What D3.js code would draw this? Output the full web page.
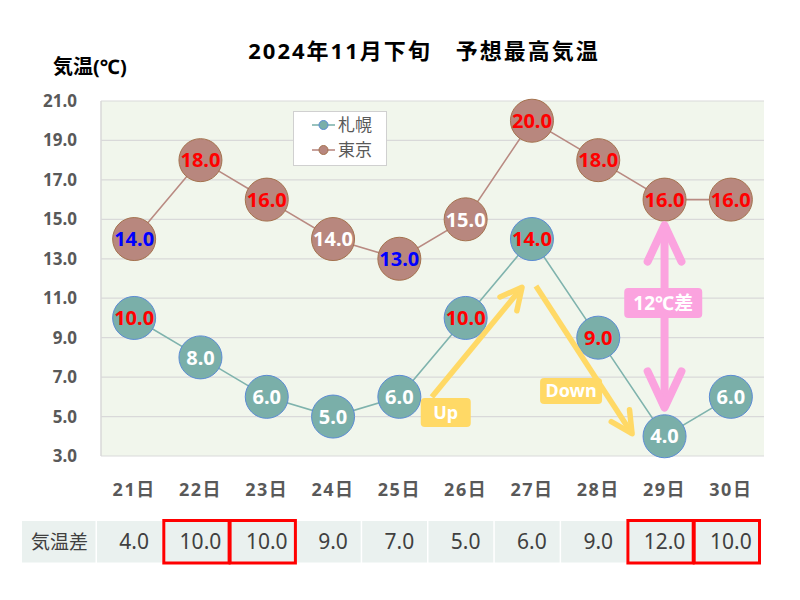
<!DOCTYPE html>
<html><head><meta charset="utf-8">
<script src="https://cdn.jsdelivr.net/npm/d3@7"></script>
<style>body{margin:0;background:#fff}svg{display:block}</style>
</head><body><svg id="c" width="800" height="600"></svg>
<script>
// ---- data ----
const days = ["21日","22日","23日","24日","25日","26日","27日","28日","29日","30日"];
const sapporo = [10,8,6,5,6,10,14,9,4,6];
const tokyo = [14,18,16,14,13,15,20,18,16,16];
const tempDiff = [4,10,10,9,7,5,6,9,12,10];
const highlightedDays = ["22日","23日","29日","30日"];
const yTicks = [3,5,7,9,11,13,15,17,19,21];
const tokyoLabelTone = ["low","high","high","plain","low","plain","high","high","high","high"];
const sapporoLabelTone = ["high","plain","plain","plain","plain","high","high","high","plain","plain"];
const seriesNames = ["札幌","東京"];
// annotations in data space: [category index (fractional), temperature]
const upArrow = [[4.49,5.99],[5.85,11.55]];
const downArrow = [[6.06,11.62],[7.51,4.13]];
const gapArrow = [[8,14.7],[8,5.45]];
const upLabel = {text:"Up", at:[4.70,5.21]};
const downLabel = {text:"Down", at:[6.59,6.30]};
const gapLabel = {text:"12℃差", at:[7.98,10.76]};

// ---- layout ----
const svg = d3.select("#c");
const L = 101, R = 764, T = 101, B = 456;
const FONT = "'Noto Sans','Noto Sans CJK JP',sans-serif";
const toneColor = {high:"#ff0000", low:"#0000ff", plain:"#ffffff"};

const x = d3.scaleBand().domain(days).range([L,R]).padding(0);
const xi = d3.scaleLinear().domain([-0.5, days.length-0.5]).range([L,R]);
const y = d3.scaleLinear().domain([3,21]).range([B,T]);
const cx = d => x(d) + x.bandwidth()/2;

// plot background
svg.append("rect").attr("x",L).attr("y",T).attr("width",R-L).attr("height",B-T).attr("fill","#f1f6ec");
// gridlines
svg.append("g").selectAll("line").data(yTicks).join("line")
  .attr("x1",L).attr("x2",R).attr("y1",d=>y(d)).attr("y2",d=>y(d))
  .attr("stroke","#d9d9d9").attr("stroke-width",1.2);
svg.append("line").attr("x1",L).attr("x2",L).attr("y1",T).attr("y2",B).attr("stroke","#d9d9d9").attr("stroke-width",1.5);

// y axis labels
const yAxis = d3.axisLeft(y).tickValues(yTicks).tickFormat(d3.format(".1f")).tickSize(0).tickPadding(0);
const gy = svg.append("g").attr("transform","translate(77,0)").call(yAxis);
gy.select(".domain").remove();
gy.selectAll("text").attr("font-family",FONT).attr("font-size",17).attr("font-weight","bold").attr("fill","#595959");

// x axis labels
const xAxis = d3.axisBottom(x).tickSize(0).tickPadding(0);
const gx = svg.append("g").attr("transform","translate(0,480)").call(xAxis);
gx.select(".domain").remove();
gx.selectAll("text").attr("font-family",FONT).attr("font-size",18).attr("font-weight","bold").attr("fill","#595959")
  .attr("letter-spacing",1.5).attr("dy","0.35em").attr("y",10);

// title & axis title
svg.append("text").attr("x",424).attr("y",51).attr("dy","0.35em").attr("text-anchor","middle")
  .attr("font-family",FONT).attr("font-size",22).attr("font-weight","bold").attr("fill","#000")
  .attr("letter-spacing",2).text("2024年11月下旬　予想最高気温");
svg.append("text").attr("x",53).attr("y",67).attr("dy","0.35em")
  .attr("font-family",FONT).attr("font-size",20).attr("font-weight","bold").attr("fill","#000").text("気温(℃)");

// series
const series = [
  {name:seriesNames[0], values:sapporo, tone:sapporoLabelTone, line:"#7fb3ad", fill:"#7aafa9", stroke:"#5b8bd4"},
  {name:seriesNames[1], values:tokyo, tone:tokyoLabelTone, line:"#b98a82", fill:"#b8877e", stroke:"#a4724e"}
];
const lineGen = d3.line().x((d,i)=>cx(days[i])).y(d=>y(d));
series.forEach(s=>{
  svg.append("path").attr("d",lineGen(s.values)).attr("fill","none").attr("stroke",s.line).attr("stroke-width",1.6);
});
series.forEach(s=>{
  const g = svg.append("g");
  g.selectAll("circle").data(s.values).join("circle")
    .attr("cx",(d,i)=>cx(days[i])).attr("cy",d=>y(d)).attr("r",21.5)
    .attr("fill",s.fill).attr("stroke",s.stroke).attr("stroke-width",1);
  g.selectAll("text").data(s.values).join("text")
    .attr("x",(d,i)=>cx(days[i])).attr("y",d=>y(d)).attr("dy","0.36em").attr("text-anchor","middle")
    .attr("font-family",FONT).attr("font-size",20).attr("font-weight","bold")
    .attr("fill",(d,i)=>toneColor[s.tone[i]]).text(d=>d3.format(".1f")(d));
});

// legend
const lg = svg.append("g");
lg.append("rect").attr("x",293.5).attr("y",111.5).attr("width",93).attr("height",54).attr("fill","#ffffff").attr("stroke","#d0d0d0");
series.forEach((s,k)=>{
  const yy = 125 + k*25;
  lg.append("line").attr("x1",312).attr("x2",335).attr("y1",yy).attr("y2",yy).attr("stroke",s.line).attr("stroke-width",1.6);
  lg.append("circle").attr("cx",323.5).attr("cy",yy).attr("r",4.5).attr("fill",s.fill).attr("stroke",s.stroke).attr("stroke-width",1);
  lg.append("text").attr("x",338).attr("y",yy).attr("dy","0.35em").attr("font-family",FONT).attr("font-size",17).attr("fill","#595959").text(s.name);
});

// annotations
function arrow(pts, color, width, headLen, headAng, both){
  const p = pts.map(d=>[xi(d[0]), y(d[1])]);
  const g = svg.append("g").attr("stroke",color).attr("stroke-width",width).attr("fill","none").attr("stroke-linecap","round").attr("stroke-linejoin","round");
  g.append("line").attr("x1",p[0][0]).attr("y1",p[0][1]).attr("x2",p[1][0]).attr("y2",p[1][1]).attr("stroke-linecap","butt");
  const heads = both ? [[p[1],p[0]],[p[0],p[1]]] : [[p[0],p[1]]];
  heads.forEach(([a,b])=>{
    const ang = Math.atan2(a[1]-b[1], a[0]-b[0]);
    const a1 = ang + headAng, a2 = ang - headAng;
    g.append("path").attr("d",`M${b[0]+headLen*Math.cos(a1)},${b[1]+headLen*Math.sin(a1)}L${b[0]},${b[1]}L${b[0]+headLen*Math.cos(a2)},${b[1]+headLen*Math.sin(a2)}`);
  });
}
function label(l, color, w, h, fs){
  const px = xi(l.at[0]), py = y(l.at[1]);
  svg.append("rect").attr("x",px-w/2).attr("y",py-h/2).attr("width",w).attr("height",h).attr("rx",4).attr("fill",color);
  svg.append("text").attr("x",px).attr("y",py).attr("dy","0.36em").attr("text-anchor","middle")
    .attr("font-family",FONT).attr("font-size",fs).attr("font-weight","bold").attr("fill","#ffffff").text(l.text);
}
const YEL = "#ffd966", PINK = "#fba3df";
arrow(upArrow, YEL, 5.5, 24, 27*Math.PI/180, false);
arrow(downArrow, YEL, 5.5, 24, 27*Math.PI/180, false);
arrow(gapArrow, PINK, 8, 40, 25*Math.PI/180, true);
label(upLabel, YEL, 50, 29, 18);
label(downLabel, YEL, 62, 26, 18);
label(gapLabel, PINK, 78, 30, 19);

// table
const rowY = 521, rowH = 41.5, shift = -4;
const tg = svg.append("g");
tg.append("rect").attr("x",22).attr("y",rowY).attr("width",x(days[0])+shift-22-1.5).attr("height",rowH).attr("fill","#eaf1ef");
tg.append("text").attr("x",(22+x(days[0])+shift)/2).attr("y",rowY+rowH/2).attr("dy","0.36em").attr("text-anchor","middle")
  .attr("font-family",FONT).attr("font-size",19).attr("fill","#404040").text("気温差");
tg.selectAll("rect.cell").data(tempDiff).join("rect").attr("class","cell")
  .attr("x",(d,i)=>x(days[i])+shift).attr("y",rowY).attr("width",x.bandwidth()-1.5).attr("height",rowH).attr("fill","#eaf1ef");
tg.selectAll("text.val").data(tempDiff).join("text").attr("class","val")
  .attr("x",(d,i)=>cx(days[i])).attr("y",rowY+rowH/2).attr("dy","0.36em").attr("text-anchor","middle")
  .attr("font-family",FONT).attr("font-size",21).attr("fill","#404040").text(d=>d3.format(".1f")(d));
tg.selectAll("rect.hl").data(days.filter(d=>highlightedDays.includes(d))).join("rect").attr("class","hl")
  .attr("x",d=>x(d)+shift+0.5).attr("y",rowY-0.5).attr("width",x.bandwidth()-1).attr("height",rowH+1)
  .attr("fill","none").attr("stroke","#ff0000").attr("stroke-width",3);
</script></body></html>
